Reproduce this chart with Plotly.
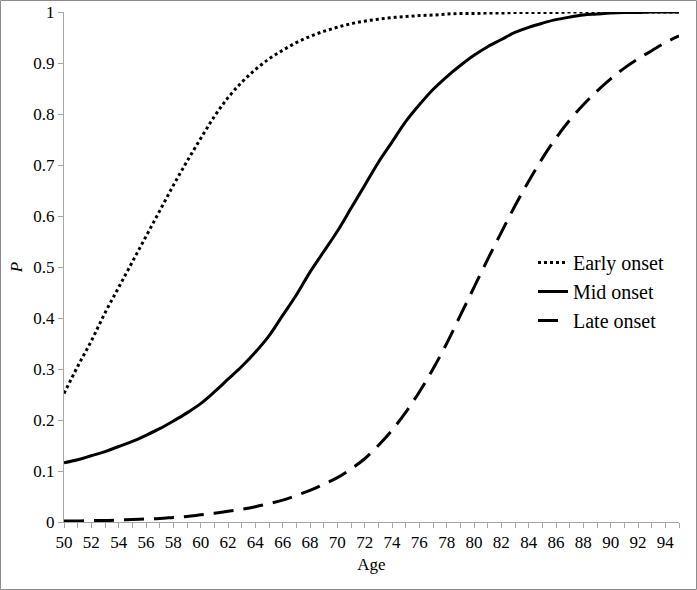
import plotly.graph_objects as go

ages = list(range(50, 96))

early_onset = [0.252, 0.305, 0.355, 0.41, 0.46, 0.51, 0.56, 0.61, 0.66, 0.707,
               0.752, 0.795, 0.832, 0.862, 0.887, 0.908, 0.925, 0.94, 0.952, 0.962,
               0.970, 0.977, 0.982, 0.986, 0.989, 0.991, 0.993, 0.994, 0.996, 0.997,
               0.997, 0.998, 0.998, 0.999, 0.999, 0.999, 0.999, 1.0, 1.0, 1.0,
               1.0, 1.0, 1.0, 1.0, 1.0, 1.0]

mid_onset = [0.116, 0.122, 0.13, 0.138, 0.148, 0.158, 0.17, 0.183, 0.198, 0.214,
             0.232, 0.255, 0.28, 0.305, 0.333, 0.365, 0.405, 0.445, 0.49, 0.53,
             0.57, 0.615, 0.66, 0.705, 0.745, 0.785, 0.818, 0.848, 0.873, 0.895,
             0.915, 0.932, 0.946, 0.96, 0.97, 0.978, 0.985, 0.99, 0.994, 0.996,
             0.998, 0.999, 0.999, 1.0, 1.0, 1.0]

late_onset = [0.002, 0.002, 0.003, 0.003, 0.004, 0.005, 0.006, 0.007, 0.009, 0.011,
              0.014, 0.017, 0.021, 0.025, 0.03, 0.036, 0.043, 0.052, 0.062, 0.074,
              0.087, 0.104, 0.124, 0.15, 0.18, 0.215, 0.255, 0.3, 0.35, 0.405,
              0.46, 0.515, 0.568, 0.62, 0.668, 0.713, 0.753, 0.788, 0.818, 0.845,
              0.869, 0.89, 0.908, 0.924, 0.94, 0.953]

series_names = ["Early onset", "Mid onset", "Late onset"]

FONT = "Liberation Serif, Times New Roman, serif"
W, H = 697, 590
L, R, T, B = 64, 18, 12, 68
pw, ph = W - L - R, H - T - B

fig = go.Figure()
fig.add_trace(go.Scatter(x=ages, y=early_onset, mode="lines", name=series_names[0],
                         line=dict(color="black", width=3, dash="dot", shape="spline")))
fig.add_trace(go.Scatter(x=ages, y=mid_onset, mode="lines", name=series_names[1],
                         line=dict(color="black", width=3, shape="spline")))
fig.add_trace(go.Scatter(x=ages, y=late_onset, mode="lines", name=series_names[2],
                         line=dict(color="black", width=3, dash="20px,10px", shape="spline")))

axis_col = "#a6a6a6"
fig.update_layout(
    width=W, height=H,
    margin=dict(l=L, r=R, t=T, b=B, autoexpand=False),
    paper_bgcolor="white", plot_bgcolor="white",
    font=dict(family=FONT, size=17, color="black"),
    showlegend=True,
    legend=dict(x=(533 - L) / pw, y=(522 - 243) / ph, xanchor="left", yanchor="top",
                bgcolor="rgba(0,0,0,0)", font=dict(family=FONT, size=20),
                tracegroupgap=0, itemwidth=30),
    xaxis=dict(range=[50, 95], tickmode="linear", tick0=50, dtick=2,
               showgrid=False, zeroline=False, showline=True, linecolor=axis_col, linewidth=1,
               ticks="outside", ticklen=5, tickcolor=axis_col,
               minor=dict(dtick=1, tick0=50, ticks="outside", ticklen=5, tickcolor=axis_col, showgrid=False),
               tickfont=dict(family=FONT, size=17),
               title=dict(text="Age", font=dict(family=FONT, size=17), standoff=6)),
    yaxis=dict(range=[0, 1], tickmode="linear", tick0=0, dtick=0.1,
               showgrid=False, zeroline=False, showline=True, linecolor=axis_col, linewidth=1,
               ticks="outside", ticklen=5, tickcolor=axis_col,
               tickfont=dict(family=FONT, size=17), tickformat="~g",
               title=dict(text="<i>P</i>", font=dict(family=FONT, size=17), standoff=6)),
    shapes=[dict(type="rect", xref="paper", yref="paper",
                 x0=(0.5 - L) / pw, x1=(W - 0.5 - L) / pw,
                 y0=(H - B - (H - 0.5)) / ph, y1=(H - B - 0.5) / ph,
                 line=dict(color="#8c8c8c", width=1), layer="below")],
)

fig.write_html("out.html", config={"displayModeBar": False},
               post_script="document.body.style.margin='0px';")
